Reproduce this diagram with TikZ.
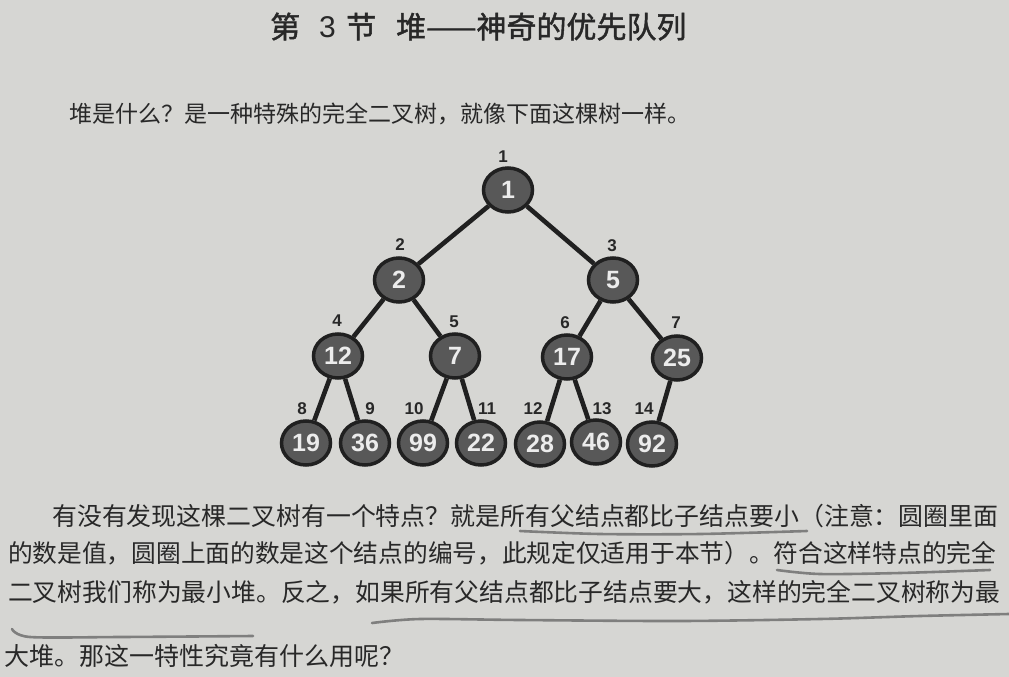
\documentclass[tikz,border=0pt]{standalone}
\usepackage{fontspec}
\usetikzlibrary{shapes.geometric}
\newfontfamily\cjk{Noto Sans CJK SC}
\newfontfamily\cjkt[FakeBold=1.5]{Noto Sans CJK SC}
\newfontfamily\arial{Liberation Sans}
\definecolor{paper}{RGB}{214,214,211}
\definecolor{ink}{RGB}{40,40,40}
\definecolor{ball}{RGB}{88,88,88}
\definecolor{rim}{RGB}{32,32,32}
\definecolor{digit}{RGB}{236,236,236}
\definecolor{pencil}{RGB}{112,112,112}
\tikzset{
  heap/.style={ellipse, minimum width=49pt, minimum height=44pt, inner sep=0pt, fill=ball, draw=rim,
    line width=3.5pt, text=digit, font=\arial\bfseries\fontsize{25}{25}\selectfont},
  idx/.style={font=\arial\bfseries\fontsize{17}{17}\selectfont, text=ink, inner sep=0pt},
  edge/.style={line width=4.6pt, draw=rim},
  body/.style={anchor=base west, inner sep=0pt, text=ink},
  uline/.style={draw=pencil, line width=2.6pt, line cap=round, opacity=0.85}
}
\newcommand{\fs}[1]{\cjk\fontsize{#1}{#1}\selectfont}
\begin{document}
\begin{tikzpicture}[x=1pt,y=-1pt]
\fill[paper] (0,0) rectangle (1009,677);
\useasboundingbox (0,0) rectangle (1009,677);

% title
\node[body] (t1) at (270,38) {\cjkt\fontsize{30}{30}\selectfont 第};
\node[body] (t2) at (319,38) {\arial\fontsize{30}{30}\selectfont 3};
\node[body] (t3) at (346,38) {\cjkt\fontsize{30}{30}\selectfont 节};
\node[body] (t4) at (396,38) {\cjkt\fontsize{30}{30}\selectfont 堆——神奇的优先队列};

% first line
\node[body] (l1) at (69,122) {\fs{23}堆是什么？是一种特殊的完全二叉树，就像下面这棵树一样。};

% tree nodes
\node[heap] (n1) at (508,190) {1};
\node[heap] (n2) at (399,280) {2};
\node[heap] (n3) at (613,280) {5};
\node[heap] (n4) at (338,356) {12};
\node[heap] (n5) at (455,356) {7};
\node[heap] (n6) at (567,357) {17};
\node[heap] (n7) at (677,358) {25};
\node[heap] (n8) at (306,443) {19};
\node[heap] (n9) at (365,443) {36};
\node[heap] (n10) at (423,443) {99};
\node[heap] (n11) at (481,443) {22};
\node[heap] (n12) at (540,444) {28};
\node[heap] (n13) at (596,442) {46};
\node[heap] (n14) at (652,444) {92};

% edges
\draw[edge] (n1) -- (n2);
\draw[edge] (n1) -- (n3);
\draw[edge] (n2) -- (n4);
\draw[edge] (n2) -- (n5);
\draw[edge] (n3) -- (n6);
\draw[edge] (n3) -- (n7);
\draw[edge] (n4) -- (n8);
\draw[edge] (n4) -- (n9);
\draw[edge] (n5) -- (n10);
\draw[edge] (n5) -- (n11);
\draw[edge] (n6) -- (n12);
\draw[edge] (n6) -- (n13);
\draw[edge] (n7) -- (n14);

% index labels
\node[idx] (i1) at (503,157) {1};
\node[idx] (i2) at (400,245) {2};
\node[idx] (i3) at (612,246) {3};
\node[idx] (i4) at (337,321) {4};
\node[idx] (i5) at (454,322) {5};
\node[idx] (i6) at (565,323) {6};
\node[idx] (i7) at (676,323) {7};
\node[idx] (i8) at (302,409) {8};
\node[idx] (i9) at (370,409) {9};
\node[idx] (i10) at (414,409) {10};
\node[idx] (i11) at (487,409) {11};
\node[idx] (i12) at (533,409) {12};
\node[idx] (i13) at (602,409) {13};
\node[idx] (i14) at (644,409) {14};

% paragraph
\node[body] (p1) at (52,525) {\fs{24.9}有没有发现这棵二叉树有一个特点？就是所有父结点都比子结点要小（注意：圆圈里面};
\node[body] (p2) at (8,562) {\fs{24.7}的数是值，圆圈上面的数是这个结点的编号，此规定仅适用于本节）。符合这样特点的完全};
\node[body] (p3) at (8,601) {\fs{24.8}二叉树我们称为最小堆。反之，如果所有父结点都比子结点要大，这样的完全二叉树称为最};
\node[body] (p4) at (4,665) {\fs{25}大堆。那这一特性究竟有什么用呢？};

% pencil underlines
\draw[uline] plot[smooth] coordinates {(520,531) (600,534) (700,534) (807,531)};
\draw[uline] plot[smooth] coordinates {(777,570) (820,574) (900,573) (990,570)};
\draw[uline] plot[smooth] coordinates {(372,623) (420,619) (520,620) (680,621) (820,619) (920,616) (1009,614)};
\draw[uline] plot[smooth] coordinates {(12,629) (30,637) (120,637) (253,636)};
\end{tikzpicture}
\end{document}
